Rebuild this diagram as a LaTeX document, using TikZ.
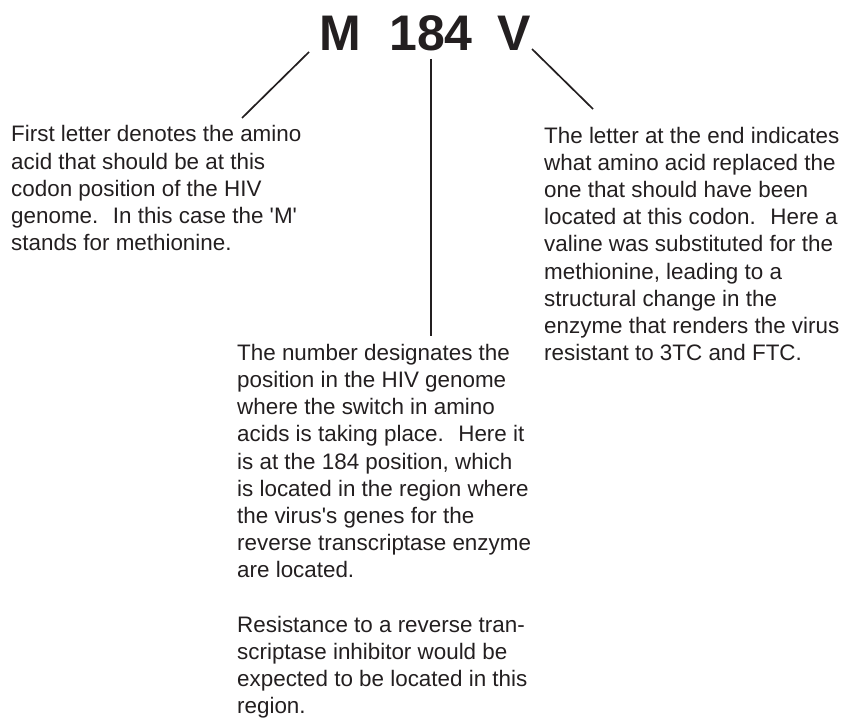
\documentclass[tikz,border=0pt]{standalone}
\usepackage{fontspec}
\usepackage{tikz}
\usetikzlibrary{positioning}
\newfontfamily\arialfont{Liberation Sans}
\definecolor{ink}{HTML}{231F20}

\begin{document}
\begin{tikzpicture}[x=1pt, y=-1pt,
    letter/.style={inner sep=0pt, anchor=base, text=ink,
                   font=\arialfont\bfseries\fontsize{50}{60}\selectfont},
    note/.style={inner sep=0pt, anchor=base west, align=left, text=ink,
                 font=\arialfont\fontsize{22.4}{27.2}\selectfont},
    pointer/.style={line width=1.7pt, draw=ink}
]
    % Page frame
    \useasboundingbox (0,0) rectangle (850,719);

    % The mutation code
    \node[letter] (M) at (340,51) {M};
    \node[letter] (num) at (431,51) {184};
    \node[letter] (V) at (514,51) {V};

    % Explanations (placed by the baseline of their last line)
    \node[note] (first) at (11,250.8) {First letter denotes the amino\\
        acid that should be at this\\
        codon position of the HIV\\
        genome.~ In this case the \textquotesingle M\textquotesingle\\
        stands for methionine.};
    \node[note] (last) at (544,360.6) {The letter at the end indicates\\
        what amino acid replaced the\\
        one that should have been\\
        located at this codon.~ Here a\\
        valine was substituted for the\\
        methionine, leading to a\\
        structural change in the\\
        enzyme that renders the virus\\
        resistant to 3TC and FTC.};
    \node[note] (middle) at (237,713.8) {The number designates the\\
        position in the HIV genome\\
        where the switch in amino\\
        acids is taking place.~ Here it\\
        is at the 184 position, which\\
        is located in the region where\\
        the virus\textquotesingle s genes for the\\
        reverse transcriptase enzyme\\
        are located.\\[27.2pt]
        Resistance to a reverse tran-\\
        scriptase inhibitor would be\\
        expected to be located in this\\
        region.};

    % Pointer ends
    \coordinate (Mtop) at (309,52);
    \coordinate (Mend) at (242,118);
    \coordinate (numtop) at (431,59);
    \coordinate (numend) at (431,336);
    \coordinate (Vtop) at (532,49);
    \coordinate (Vend) at (593,109);

    % Pointers
    \draw[pointer] (Mtop) -- (Mend);
    \draw[pointer] (numtop) -- (numend);
    \draw[pointer] (Vtop) -- (Vend);
\end{tikzpicture}
\end{document}
